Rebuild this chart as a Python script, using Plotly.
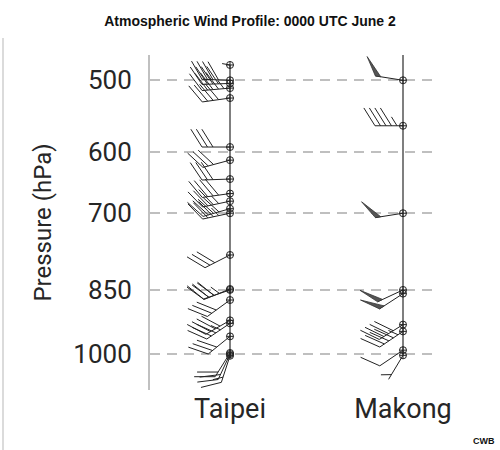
import math

import plotly.graph_objects as go

# observations: pressure (hPa), wind direction (deg, from), speed (kt)
taipei_p = [481, 500, 504, 510, 523, 592, 612, 642, 666, 679, 692, 700,
            778, 848, 850, 872, 918, 925, 956, 997, 1000, 1004]
taipei_dir = [280, 272, 268, 265, 262, 270, 255, 268, 262, 258, 254, 258,
              243, 248, 251, 234, 240, 236, 231, 212, 205, 198]
taipei_spd = [0, 40, 40, 45, 40, 30, 30, 30, 40, 35, 40, 35,
              30, 35, 30, 30, 40, 35, 30, 20, 20, 15]

makong_p = [500, 561, 700, 850, 858, 928, 944, 990, 1003]
makong_dir = [279, 270, 261, 245, 237, 238, 236, 236, 211]
makong_spd = [50, 45, 50, 50, 50, 40, 45, 10, 5]

stations = ["Taipei", "Makong"]
pressure_ticks = [500, 600, 700, 850, 1000]

# layout geometry (pixels)
W, H = 500, 450
ML, MR, MT, MB = 150, 68, 55, 60
PW, PH = W - ML - MR, H - MT - MB
P_TOP, P_BOT = 469, 1095
PPD = PH / math.log10(P_BOT / P_TOP)  # pixels per decade of pressure
STATION_X = {"Taipei": 80, "Makong": 253}

STAFF, FEATHER, SPACING, ANG = 28, 21, 5.5, math.radians(58)


def barb(direction, speed):
    """Return (line segments, pennant triangles) as pixel offsets (x right, y up)."""
    r = math.radians(direction)
    ux, uy = math.sin(r), math.cos(r)
    fx = ux * math.cos(ANG) + uy * math.sin(ANG)
    fy = -ux * math.sin(ANG) + uy * math.cos(ANG)
    if speed < 2.5:
        return [[(0, 0), (8 * ux, 8 * uy)]], []
    tx, ty = STAFF * ux, STAFF * uy
    lines = [[(0, 0), (tx, ty)]]
    tris = []
    s = int(round(speed / 5.0) * 5)
    pennants, rem = divmod(s, 50)
    full, rem = divmod(rem, 10)
    half = rem // 5
    pos = 0.0
    for _ in range(pennants):
        bx, by = tx - pos * ux, ty - pos * uy
        cx, cy = tx - (pos + SPACING) * ux, ty - (pos + SPACING) * uy
        tris.append([(bx, by), (bx + FEATHER * fx, by + FEATHER * fy), (cx, cy)])
        pos += SPACING + 2
    for _ in range(full):
        bx, by = tx - pos * ux, ty - pos * uy
        lines.append([(bx, by), (bx + FEATHER * fx, by + FEATHER * fy)])
        pos += SPACING
    if half:
        if pos == 0:
            pos = SPACING
        bx, by = tx - pos * ux, ty - pos * uy
        lines.append([(bx, by), (bx + FEATHER / 2 * fx, by + FEATHER / 2 * fy)])
    return lines, tris


def to_data(x0, p0, pts):
    xs = [x0 + dx for dx, dy in pts]
    ys = [p0 * 10 ** (-dy / PPD) for dx, dy in pts]
    return xs, ys


fig = go.Figure()

profiles = {
    "Taipei": (taipei_p, taipei_dir, taipei_spd),
    "Makong": (makong_p, makong_dir, makong_spd),
}

# station staff lines
fig.add_trace(go.Scatter(x=[STATION_X["Taipei"]] * 2, y=[min(taipei_p), max(taipei_p)],
                         mode="lines", line=dict(color="#555", width=1.5),
                         hoverinfo="skip", showlegend=False))
fig.add_trace(go.Scatter(x=[STATION_X["Makong"]] * 2, y=[P_TOP - 5, max(makong_p)],
                         mode="lines", line=dict(color="#555", width=1.5),
                         hoverinfo="skip", showlegend=False))

for name, (ps, ds, ss) in profiles.items():
    x0 = STATION_X[name]
    lx, ly, tx, ty = [], [], [], []
    for p, d, s in zip(ps, ds, ss):
        lines, tris = barb(d, s)
        for seg in lines:
            xs, ys = to_data(x0, p, seg)
            lx += xs + [None]
            ly += ys + [None]
        for tri in tris:
            xs, ys = to_data(x0, p, tri + [tri[0]])
            tx += xs + [None]
            ty += ys + [None]
    fig.add_trace(go.Scatter(x=lx, y=ly, mode="lines",
                             line=dict(color="#222", width=1),
                             hoverinfo="skip", showlegend=False))
    if tx:
        fig.add_trace(go.Scatter(x=tx, y=ty, mode="lines", fill="toself",
                                 fillcolor="#555", line=dict(color="#333", width=0.8),
                                 hoverinfo="skip", showlegend=False))
    fig.add_trace(go.Scatter(x=[x0] * len(ps), y=ps, mode="markers",
                             marker=dict(symbol="circle-cross-open", size=7,
                                         color="#222", line=dict(width=1)),
                             hoverinfo="skip", showlegend=False))

fig.update_layout(
    width=W, height=H,
    margin=dict(l=ML, r=MR, t=MT, b=MB),
    paper_bgcolor="white", plot_bgcolor="white",
    title=dict(text="<b>Atmospheric Wind Profile: 0000 UTC June 2</b>",
               x=0.5, xref="container", y=1 - 21 / H, yref="container",
               xanchor="center", yanchor="middle",
               font=dict(family="Liberation Sans, Arial", size=14, color="#111")),
    xaxis=dict(range=[0, PW], showgrid=False, zeroline=False, showline=False,
               tickvals=[STATION_X[s] for s in stations], ticktext=stations,
               ticks="", tickfont=dict(family="Roboto", size=27, color="#262626")),
    yaxis=dict(type="log", range=[math.log10(P_BOT), math.log10(P_TOP)],
               tickvals=pressure_ticks, ticktext=[str(v) for v in pressure_ticks],
               ticks="", ticklabelstandoff=11,
               tickfont=dict(family="Roboto", size=26, color="#262626"),
               showgrid=True, gridcolor="#bfbfbf", gridwidth=2, griddash="10px,7px",
               zeroline=False, showline=True, linecolor="#c0c0c0", linewidth=2,
               title=dict(text="Pressure (hPa)", standoff=15,
                          font=dict(family="Roboto", size=24, color="#262626"))),
    shapes=[dict(type="line", xref="paper", yref="paper",
                 x0=(3 - ML) / PW, x1=(3 - ML) / PW,
                 y0=(H - MB - 38) / PH, y1=-MB / PH,
                 line=dict(color="#cfcfcf", width=1.5))],
    annotations=[dict(text="<b>CWB</b>", xref="paper", yref="paper",
                      x=(497 - ML) / PW, y=(H - MB - 441) / PH,
                      xanchor="right", yanchor="middle", showarrow=False,
                      font=dict(family="Liberation Sans, Arial", size=9, color="#111"))],
)

# the page body margin would shift the figure; pin it to the window corner
fig.write_html("out.html", config={"displayModeBar": False},
               post_script="document.body.style.margin='0';")
